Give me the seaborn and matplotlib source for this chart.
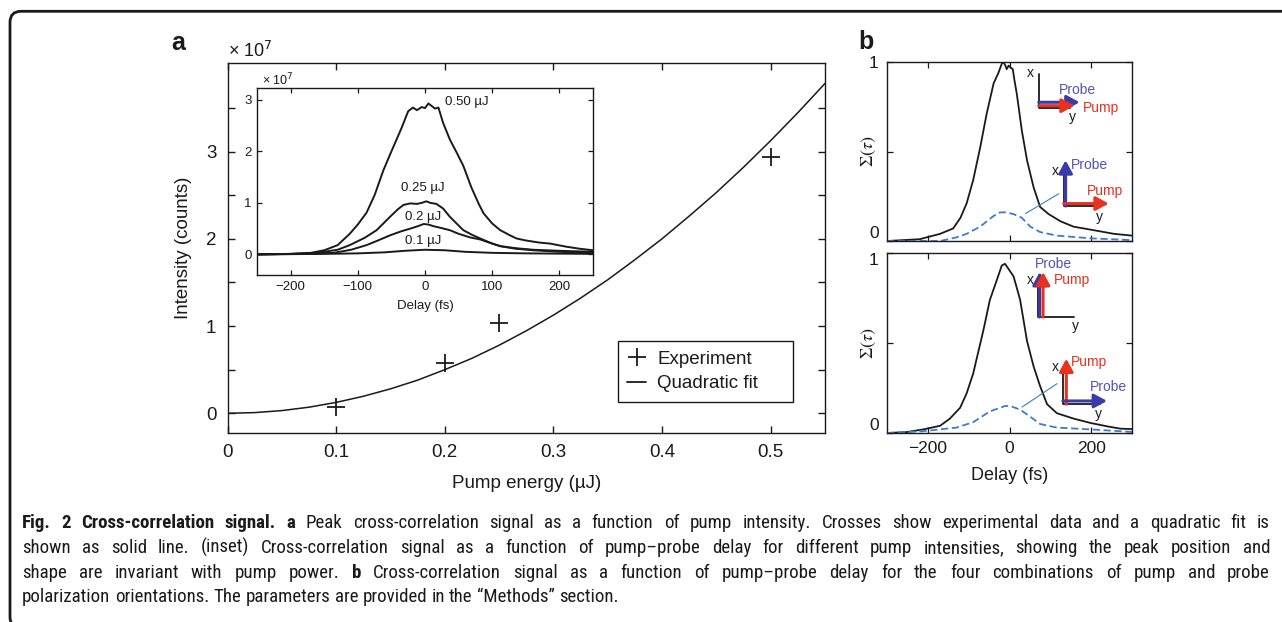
import numpy as np
import matplotlib
matplotlib.use('Agg')
import matplotlib.pyplot as plt
import seaborn as sns
from matplotlib import font_manager
from matplotlib.lines import Line2D
from matplotlib.patches import FancyBboxPatch
from matplotlib.transforms import IdentityTransform

# ---------------- data ----------------
# panel a : peak signal vs pump energy (x 1e7 counts)
PUMP_ENERGY = [0.1, 0.2, 0.25, 0.5]
PEAK_INTENSITY = [0.07, 0.58, 1.04, 2.94]

# quadratic fit line
FIT_ENERGY = [0, 0.025, 0.05, 0.075, 0.1, 0.125, 0.15, 0.175, 0.2, 0.225, 0.25, 0.275,
              0.3, 0.325, 0.35, 0.375, 0.4, 0.425, 0.45, 0.475, 0.5, 0.525, 0.55]
FIT_INTENSITY = [0, 0.008, 0.031, 0.07, 0.125, 0.195, 0.28, 0.38, 0.5, 0.63, 0.78, 0.945,
                 1.125, 1.32, 1.53, 1.76, 2.0, 2.26, 2.53, 2.82, 3.125, 3.445, 3.78]

# inset : signal vs delay for each pump energy
DELAY_050 = [-250, -200, -170, -150, -130, -112, -100, -87, -75, -62, -50, -45, -35, -25, -18,
             -12, -5, 0, 5, 10, 15, 20, 27, 37, 47, 57, 69, 80, 87, 100, 112, 125, 136, 150,
             170, 186, 210, 230, 250]
SIGNAL_050 = [0.0, 0.01, 0.03, 0.08, 0.18, 0.40, 0.58, 0.81, 1.15, 1.63, 2.0, 2.15, 2.45, 2.78,
              2.85, 2.80, 2.86, 2.84, 2.93, 2.88, 2.83, 2.85, 2.55, 2.23, 1.98, 1.72, 1.30, 0.98,
              0.80, 0.60, 0.47, 0.38, 0.31, 0.27, 0.23, 0.21, 0.15, 0.11, 0.08]
DELAY_025 = [-250, -200, -161, -130, -112, -90, -72, -52, -40, -32, -22, -12, -5, 2, 8, 17, 27,
             37, 47, 57, 70, 82, 100, 112, 135, 161, 200, 250]
SIGNAL_025 = [0.0, 0.01, 0.03, 0.09, 0.18, 0.32, 0.47, 0.73, 0.88, 0.96, 0.99, 0.98, 1.0, 1.03,
              1.0, 0.98, 0.89, 0.73, 0.60, 0.47, 0.38, 0.31, 0.21, 0.16, 0.12, 0.09, 0.07, 0.05]
DELAY_020 = [-250, -180, -136, -110, -87, -70, -52, -35, -22, -10, -2, 5, 12, 25, 37, 50, 67,
             82, 100, 112, 135, 161, 200, 250]
SIGNAL_020 = [0.0, 0.01, 0.03, 0.09, 0.18, 0.27, 0.37, 0.45, 0.50, 0.55, 0.59, 0.58, 0.55, 0.51,
              0.47, 0.40, 0.33, 0.29, 0.21, 0.16, 0.11, 0.08, 0.05, 0.03]
DELAY_010 = [-250, -150, -100, -60, -30, 0, 30, 60, 100, 150, 250]
SIGNAL_010 = [0.0, 0.01, 0.02, 0.04, 0.07, 0.09, 0.08, 0.05, 0.03, 0.02, 0.01]
INSET_LABELS = ['0.50 µJ', '0.25 µJ', '0.2 µJ', '0.1 µJ']
INSET_LABEL_POS = [(62, 2.95), (-3, 1.28), (-3, 0.73), (-3, 0.26)]

# panel b : normalised cross-correlation Σ(τ)
B1_DELAY = [-300, -220, -170, -138, -120, -105, -89, -72, -56, -39, -27, -19, -15, -10, -7, -2,
            2, 8, 12, 18, 30, 43, 59, 75, 96, 125, 157, 207, 256, 300]
B1_SOLID = [0, 0.01, 0.04, 0.07, 0.13, 0.21, 0.34, 0.52, 0.71, 0.88, 0.94, 0.99, 1.0, 0.98, 0.96,
            0.98, 0.97, 0.96, 0.90, 0.82, 0.62, 0.45, 0.30, 0.19, 0.15, 0.11, 0.08, 0.06, 0.04, 0.03]
B1_DASH_DELAY = [-300, -170, -130, -105, -72, -39, -23, -7, 10, 30, 51, 75, 116, 198, 300]
B1_DASH = [0, 0.0, 0.02, 0.04, 0.08, 0.14, 0.16, 0.16, 0.15, 0.13, 0.08, 0.05, 0.03, 0.015, 0.005]

B2_DELAY = [-300, -252, -211, -170, -146, -121, -105, -89, -64, -48, -31, -19, -11, -2, 10, 26,
            43, 59, 75, 92, 116, 157, 198, 239, 272, 300]
B2_SOLID = [0, 0.005, 0.02, 0.04, 0.08, 0.14, 0.22, 0.33, 0.57, 0.74, 0.85, 0.93, 0.94, 0.91, 0.87,
            0.74, 0.51, 0.37, 0.26, 0.16, 0.11, 0.08, 0.056, 0.037, 0.024, 0.022]
B2_DASH_DELAY = [-300, -211, -130, -89, -48, -23, -11, 2, 26, 51, 75, 116, 198, 300]
B2_DASH = [0, 0.01, 0.03, 0.06, 0.12, 0.14, 0.15, 0.15, 0.13, 0.09, 0.05, 0.03, 0.02, 0.006]

CAPTION = [
    [("Fig. 2 Cross-correlation signal. a", True),
     ("Peak cross-correlation signal as a function of pump intensity. Crosses show experimental data and a quadratic fit is", False)],
    [("shown as solid line. (inset) Cross-correlation signal as a function of pump\u2013probe delay for different pump intensities, showing the peak position and", False)],
    [("shape are invariant with pump power.", False), ("b", True),
     ("Cross-correlation signal as a function of pump\u2013probe delay for the four combinations of pump and probe", False)],
    [("polarization orientations. The parameters are provided in the \u201cMethods\u201d section.", False)],
]

# ---------------- style ----------------
sns.set_theme(style='ticks')
plt.rcParams['font.family'] = ['Liberation Sans', 'DejaVu Sans']
plt.rcParams['axes.unicode_minus'] = True
plt.rcParams['axes.linewidth'] = 1.0
plt.rcParams['axes.edgecolor'] = 'k'
plt.rcParams['xtick.color'] = 'k'
plt.rcParams['ytick.color'] = 'k'
plt.rcParams['text.color'] = 'k'
plt.rcParams['axes.labelcolor'] = 'k'

# caption font: pick a narrow face if one is installed
fonts = font_manager.fontManager.ttflist
names = {f.name for f in fonts}
CAP_FONT, CAP_STRETCH = ['Liberation Sans', 'DejaVu Sans'], 'normal'
for cand in ['Liberation Sans Narrow', 'Roboto Condensed', 'Open Sans Condensed']:
    if cand in names:
        CAP_FONT = [cand, 'DejaVu Sans']
        break
else:
    if any(f.name == 'DejaVu Sans' and f.stretch == 'condensed' for f in fonts):
        CAP_FONT, CAP_STRETCH = ['DejaVu Sans'], 'condensed'

BLUE_LINE = '#3d7cc9'
BLUE = '#3a3aa8'
BLUE_TXT = '#5252b8'
RED = '#e8311f'

W, H = 1282, 622
fig = plt.figure(figsize=(W / 100, H / 100), dpi=100)
fig.patch.set_facecolor('white')


def px_axes(left, right, top, bottom):
    return fig.add_axes([left / W, 1 - bottom / H, (right - left) / W, (bottom - top) / H])


# ---------------- panel a ----------------
ax = px_axes(227.5, 825, 62.5, 432.5)
sns.lineplot(x=FIT_ENERGY, y=FIT_INTENSITY, color='k', lw=1.1, sort=False, estimator=None, ax=ax)
sns.scatterplot(x=PUMP_ENERGY, y=PEAK_INTENSITY, marker='+', s=170, color='k', linewidth=1.3, ax=ax)
ax.set_xlim(0, 0.55)
ax.set_ylim(-0.22, 4.02)
ax.set_xticks([0, 0.1, 0.2, 0.3, 0.4, 0.5])
ax.set_xticklabels(['0', '0.1', '0.2', '0.3', '0.4', '0.5'])
ax.set_yticks(np.arange(0, 3.51, 0.5))
ax.set_yticklabels(['0', '', '1', '', '2', '', '3', ''])
ax.tick_params(direction='in', top=True, right=True, length=5, width=1, labelsize=13.5, pad=8)
ax.set_xlabel('Pump energy (µJ)', fontsize=13.5, labelpad=10)
ax.set_ylabel('Intensity (counts)', fontsize=13.5, labelpad=10)
ax.text(0.0, 1.005, '× 10$^{7}$', transform=ax.transAxes, fontsize=13, ha='left', va='bottom')
handles = [Line2D([], [], marker='+', ls='none', color='k', ms=13, mew=1.3),
           Line2D([], [], color='k', lw=1.3)]
leg = ax.legend(handles, ['Experiment', 'Quadratic fit'], loc='center',
                bbox_to_anchor=(0.6536, 0.0824, 0.2929, 0.1649), mode='expand',
                frameon=True, fancybox=False, edgecolor='k', fontsize=13.5, handlelength=1.0,
                handletextpad=0.6, borderpad=0.5, borderaxespad=0, labelspacing=0.4, framealpha=1)
leg.get_frame().set_linewidth(1.0)
fig.text(178 / W, 1 - 50 / H, 'a', fontsize=18, fontweight='bold', ha='center', va='baseline')

# inset
ax_in = px_axes(257, 593, 88, 275)
ax_in.set_facecolor('white')
for d, s in [(DELAY_050, SIGNAL_050), (DELAY_025, SIGNAL_025), (DELAY_020, SIGNAL_020),
             (DELAY_010, SIGNAL_010)]:
    sns.lineplot(x=d, y=s, color='k', lw=1.4, sort=False, estimator=None, ax=ax_in)
for lab, (xx, yy) in zip(INSET_LABELS, INSET_LABEL_POS):
    ax_in.text(xx, yy, lab, fontsize=9.5, ha='center', va='center')
ax_in.set_xlim(-250, 250)
ax_in.set_ylim(-0.4, 3.23)
ax_in.set_xticks([-200, -100, 0, 100, 200])
ax_in.set_yticks([0, 1, 2, 3])
ax_in.tick_params(direction='in', top=True, right=True, length=3.5, width=0.9, labelsize=9.5, pad=4)
ax_in.set_xlabel('Delay (fs)', fontsize=9.5, labelpad=5)
ax_in.text(0.015, 1.0, '× 10$^{7}$', transform=ax_in.transAxes, fontsize=9, ha='left', va='bottom')

# ---------------- panel b ----------------
ax_b1 = px_axes(887, 1132, 62, 241)
ax_b2 = px_axes(887, 1132, 253, 433)
panels = [(ax_b1, B1_DELAY, B1_SOLID, B1_DASH_DELAY, B1_DASH),
          (ax_b2, B2_DELAY, B2_SOLID, B2_DASH_DELAY, B2_DASH)]
for axb, d, s, dd, ds in panels:
    sns.lineplot(x=d, y=s, color='k', lw=1.3, sort=False, estimator=None, ax=axb)
    sns.lineplot(x=dd, y=ds, color=BLUE_LINE, lw=1.3, ls=(0, (4, 2)), sort=False, estimator=None, ax=axb)
    axb.set_xlim(-300, 300)
    axb.set_ylim(0, 1)
    axb.set_xticks([-200, 0, 200])
    axb.set_yticks([0, 0.5, 1])
    axb.set_yticklabels(['0', '', '1'])
    axb.tick_params(direction='in', top=True, right=True, length=4, width=0.9, labelsize=12.5, pad=6)
    axb.set_ylabel(r'$\Sigma(\tau)$', fontsize=13, math_fontfamily='stix')
    axb.yaxis.set_label_coords(-0.035, 0.5)
ax_b1.set_xticklabels([])
ax_b1.get_yticklabels()[0].set_va('bottom')
ax_b2.get_yticklabels()[0].set_va('bottom')
ax_b2.get_yticklabels()[2].set_va('top')
ax_b2.set_xlabel('Delay (fs)', fontsize=13, labelpad=8)
fig.text(866 / W, 1 - 49 / H, 'b', fontsize=18, fontweight='bold', ha='center', va='baseline')

AKW = dict(arrowstyle='-|>,head_length=0.55,head_width=0.3', lw=2.2, mutation_scale=14,
           shrinkA=0, shrinkB=0)


def arrow(axb, x0, y0, x1, y1, color):
    axb.annotate('', xy=(x1, y1), xytext=(x0, y0), xycoords='axes fraction',
                 arrowprops=dict(color=color, **AKW))


def line(axb, xs, ys, color='k', lw=1.3):
    axb.plot(xs, ys, color=color, lw=lw, transform=axb.transAxes, clip_on=False)


def label(axb, x, y, s, color='k'):
    axb.text(x, y, s, color=color, fontsize=10, ha='center', va='center', transform=axb.transAxes)


# top panel diagrams: probe || pump along y ; probe along x, pump along y
line(ax_b1, [0.619, 0.619, 0.748], [0.935, 0.741, 0.741])
arrow(ax_b1, 0.619, 0.775, 0.786, 0.775, BLUE)
arrow(ax_b1, 0.619, 0.756, 0.766, 0.756, RED)
label(ax_b1, 0.585, 0.938, 'x'); label(ax_b1, 0.758, 0.693, 'y')
label(ax_b1, 0.776, 0.842, 'Probe', BLUE_TXT); label(ax_b1, 0.875, 0.745, 'Pump', RED)

line(ax_b1, [0.721, 0.721, 0.87], [0.40, 0.195, 0.195])
arrow(ax_b1, 0.729, 0.195, 0.729, 0.451, BLUE)
arrow(ax_b1, 0.721, 0.209, 0.905, 0.209, RED)
label(ax_b1, 0.687, 0.391, 'x'); label(ax_b1, 0.868, 0.134, 'y')
label(ax_b1, 0.827, 0.423, 'Probe', BLUE_TXT); label(ax_b1, 0.888, 0.277, 'Pump', RED)
line(ax_b1, [0.701, 0.565], [0.264, 0.153], BLUE_LINE, 0.8)

# bottom panel diagrams: both along x ; pump along x, probe along y
line(ax_b2, [0.615, 0.615, 0.762], [0.85, 0.644, 0.644])
arrow(ax_b2, 0.623, 0.644, 0.623, 0.894, BLUE)
arrow(ax_b2, 0.637, 0.644, 0.637, 0.894, RED)
label(ax_b2, 0.585, 0.848, 'x'); label(ax_b2, 0.769, 0.593, 'y')
label(ax_b2, 0.678, 0.941, 'Probe', BLUE_TXT); label(ax_b2, 0.755, 0.848, 'Pump', RED)

line(ax_b2, [0.718, 0.718, 0.87], [0.35, 0.160, 0.160])
arrow(ax_b2, 0.732, 0.160, 0.732, 0.413, RED)
arrow(ax_b2, 0.718, 0.178, 0.898, 0.178, BLUE)
label(ax_b2, 0.687, 0.367, 'x'); label(ax_b2, 0.861, 0.107, 'y')
label(ax_b2, 0.823, 0.394, 'Pump', RED); label(ax_b2, 0.902, 0.256, 'Probe', BLUE_TXT)
line(ax_b2, [0.694, 0.551], [0.274, 0.144], BLUE_LINE, 0.8)

# ---------------- frame and caption ----------------
frame = FancyBboxPatch((10, -6), 1320, H - 11.3 + 6, boxstyle='round,pad=0,rounding_size=11',
                       transform=IdentityTransform(), fill=False, lw=2.0, ec='k', clip_on=False)
fig.add_artist(frame)

fig.canvas.draw()
renderer = fig.canvas.get_renderer()


def width_of(s, bold, fs):
    t = fig.text(0, 0, s, fontsize=fs, fontweight='bold' if bold else 'normal',
                 family=CAP_FONT, fontstretch=CAP_STRETCH)
    w = t.get_window_extent(renderer).width
    t.remove()
    return w


words = [[(w, b) for seg, b in ln for w in seg.split(' ')] for ln in CAPTION]
X0, X1 = 22, 1270
target = X1 - X0
fs = 12.0
space = width_of('a a', False, fs) - width_of('aa', False, fs)
nat = sum(width_of(w, b, fs) for w, b in words[1]) + space * (len(words[1]) - 1)
fs = min(13.6, fs * target / nat * 0.97)
space = width_of('a a', False, fs) - width_of('aa', False, fs)

BASELINES = [528, 553, 578, 602]
for i, (ln, yb) in enumerate(zip(words, BASELINES)):
    ws = [width_of(w, b, fs) for w, b in ln]
    gap = (target - sum(ws)) / (len(ln) - 1) if i < 3 else space
    x = X0
    for (w, b), wd in zip(ln, ws):
        fig.text(x / W, 1 - yb / H, w, fontsize=fs, fontweight='bold' if b else 'normal',
                 family=CAP_FONT, fontstretch=CAP_STRETCH, ha='left', va='baseline')
        x += wd + gap

fig.savefig('out.png', dpi=100)
